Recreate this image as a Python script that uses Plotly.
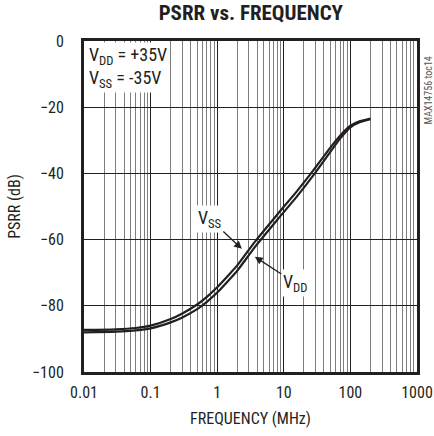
import plotly.graph_objects as go

# PSRR vs. frequency for the negative (VSS) and positive (VDD) supplies
freq_mhz = [0.01, 0.03, 0.06, 0.1, 0.2, 0.3, 0.5, 0.7, 1.0, 1.5, 2.0, 3.7, 8, 16, 27, 50, 70, 100, 140, 200]
psrr_vss = [-87.3, -87.1, -86.7, -86.0, -84.0, -82.3, -79.6, -77.3, -74.4, -70.6, -67.8,
            -60.6, -52.4, -45.2, -39.4, -32.2, -28.6, -25.6, -24.2, -23.4]
psrr_vdd = [-88.0, -87.8, -87.4, -86.8, -85.0, -83.5, -81.0, -78.8, -76.0, -72.2, -69.4,
            -62.2, -54.0, -46.8, -40.9, -33.5, -29.5, -26.1, -24.5, -23.6]

x_tickvals = [0.01, 0.1, 1, 10, 100, 1000]
x_ticktext = ["0.01", "0.1", "1", "10", "100", "1000"]
y_tickvals = [0, -20, -40, -60, -80, -100]

# minor gridlines at 2..9 within each decade
x_minor = [m * 10 ** e for e in range(-2, 3) for m in range(2, 10)]

FONT = "Liberation Sans Narrow, Arial Narrow, Roboto Condensed, sans-serif"
INK = "#231f20"

fig = go.Figure()
for name, vals in (("VSS", psrr_vss), ("VDD", psrr_vdd)):
    fig.add_trace(go.Scatter(
        x=freq_mhz, y=vals, mode="lines", name=name,
        line=dict(color=INK, width=2.2, shape="spline", smoothing=0.6),
        showlegend=False, hoverinfo="skip",
    ))

fig.update_xaxes(
    type="log", range=[-2, 3], automargin=False,
    tickvals=x_tickvals, ticktext=x_ticktext, ticks="",
    showgrid=True, gridcolor=INK, gridwidth=1,
    minor=dict(tickvals=x_minor, showgrid=True, gridcolor="#7d7d7d", gridwidth=1, ticks=""),
    showline=True, mirror=True, linecolor=INK, linewidth=3,
    zeroline=False, ticklabelstandoff=4,
    title=dict(text="FREQUENCY (MHz)", font=dict(family=FONT, size=16, color=INK), standoff=12),
    tickfont=dict(family=FONT, size=16, color=INK),
)
fig.update_yaxes(
    range=[-100, 0], automargin=False, tickvals=y_tickvals, ticks="",
    showgrid=True, gridcolor=INK, gridwidth=1,
    showline=True, mirror=True, linecolor=INK, linewidth=3,
    zeroline=False, ticklabelstandoff=14,
    title=dict(text="PSRR (dB)", font=dict(family=FONT, size=16, color=INK), standoff=8),
    tickfont=dict(family=FONT, size=16, color=INK),
)

annos = [
    # supply conditions
    dict(xref="paper", yref="paper", x=0.0, y=0.997, xanchor="left", yanchor="top",
         xshift=3, text="V<sub>DD</sub> = +35V<br>V<sub>SS</sub> = -35V", align="left",
         showarrow=False, bgcolor="white",
         font=dict(family=FONT, size=18, color=INK)),
    # curve labels
    dict(x=0.37, y=-62.8, text="V<sub>SS</sub>", showarrow=True, ax=-32, ay=-30,
         arrowhead=2, arrowsize=1.2, arrowwidth=1.3, arrowcolor=INK, bgcolor="white",
         font=dict(family=FONT, size=18, color=INK)),
    dict(x=0.565, y=-65.2, text="V<sub>DD</sub>", showarrow=True, ax=40, ay=26,
         arrowhead=2, arrowsize=1.2, arrowwidth=1.3, arrowcolor=INK, bgcolor="white",
         font=dict(family=FONT, size=18, color=INK)),
    # drawing id
    dict(xref="paper", yref="paper", x=1.0, y=1.0, xanchor="left", yanchor="top",
         xshift=3, yshift=-14, text="MAX14756 toc14", textangle=-90, showarrow=False,
         font=dict(family=FONT, size=10, color="#555")),
]
fig.update_layout(
    width=434, height=436,
    margin=dict(l=84, r=17, t=41, b=64),
    paper_bgcolor="white", plot_bgcolor="white",
    title=dict(text="<b>PSRR vs. FREQUENCY</b>", x=0.578, xanchor="center", y=0.97,
               yanchor="middle", font=dict(family=FONT, size=21, color=INK)),
    annotations=annos,
)

fig.write_html("out.html")
